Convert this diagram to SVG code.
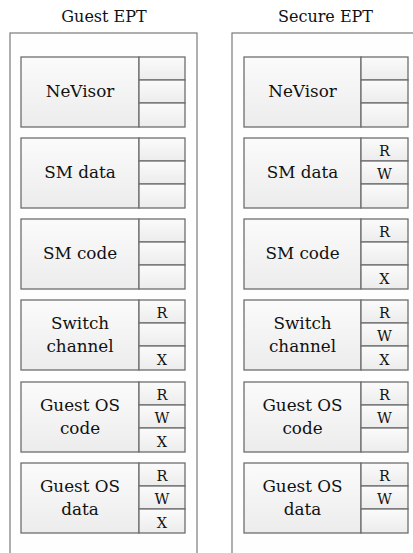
<svg xmlns="http://www.w3.org/2000/svg" width="413" height="553" viewBox="0 0 413 553">
<defs>
<linearGradient id="g" x1="0" y1="0" x2="0" y2="1">
<stop offset="0" stop-color="#fbfbfb"/>
<stop offset="1" stop-color="#ececec"/>
</linearGradient>
<style>
.ct{fill:#fefefe;stroke:#7a7a7a;stroke-width:1.2}
.bx{fill:url(#g);stroke:#6e6e6e;stroke-width:1.3}
text{font-family:"DejaVu Serif",serif;fill:#111;text-anchor:middle}
.ti{font-size:16px}
.lb{font-size:16.8px}
.c{font-size:14.5px}
</style>
</defs>
<rect width="413" height="553" fill="#ffffff"/>
<rect class="ct" x="10" y="33" width="187" height="530"/>
<rect class="ct" x="232" y="33" width="187" height="530"/>
<text class="ti" x="104" y="22">Guest EPT</text>
<text class="ti" x="325.5" y="22">Secure EPT</text>

<g id="g-nevisor">
<rect class="bx" x="21" y="57" width="118" height="70"/>
<rect class="bx" x="139" y="57" width="46" height="23"/><rect class="bx" x="139" y="80" width="46" height="23"/><rect class="bx" x="139" y="103" width="46" height="24"/>
<text class="lb" x="80" y="97">NeVisor</text>
</g>
<g id="g-smdata">
<rect class="bx" x="21" y="138" width="118" height="70"/>
<rect class="bx" x="139" y="138" width="46" height="23"/><rect class="bx" x="139" y="161" width="46" height="23"/><rect class="bx" x="139" y="184" width="46" height="24"/>
<text class="lb" x="80" y="178">SM data</text>
</g>
<g id="g-smcode">
<rect class="bx" x="21" y="219" width="118" height="70"/>
<rect class="bx" x="139" y="219" width="46" height="23"/><rect class="bx" x="139" y="242" width="46" height="23"/><rect class="bx" x="139" y="265" width="46" height="24"/>
<text class="lb" x="80" y="259">SM code</text>
</g>
<g id="g-switch">
<rect class="bx" x="21" y="300" width="118" height="70"/>
<rect class="bx" x="139" y="300" width="46" height="23"/><rect class="bx" x="139" y="323" width="46" height="23"/><rect class="bx" x="139" y="346" width="46" height="24"/>
<text class="lb" x="80" y="329">Switch</text><text class="lb" x="80" y="352">channel</text>
<text class="c" x="162" y="318">R</text><text class="c" x="162" y="365">X</text>
</g>
<g id="g-oscode">
<rect class="bx" x="21" y="382" width="118" height="70"/>
<rect class="bx" x="139" y="382" width="46" height="23"/><rect class="bx" x="139" y="405" width="46" height="23"/><rect class="bx" x="139" y="428" width="46" height="24"/>
<text class="lb" x="80" y="411">Guest OS</text><text class="lb" x="80" y="434">code</text>
<text class="c" x="162" y="400">R</text><text class="c" x="162" y="423">W</text><text class="c" x="162" y="447">X</text>
</g>
<g id="g-osdata">
<rect class="bx" x="21" y="463" width="118" height="70"/>
<rect class="bx" x="139" y="463" width="46" height="23"/><rect class="bx" x="139" y="486" width="46" height="23"/><rect class="bx" x="139" y="509" width="46" height="24"/>
<text class="lb" x="80" y="492">Guest OS</text><text class="lb" x="80" y="515">data</text>
<text class="c" x="162" y="481">R</text><text class="c" x="162" y="504">W</text><text class="c" x="162" y="528">X</text>
</g>

<g id="s-nevisor">
<rect class="bx" x="244" y="57" width="117" height="70"/>
<rect class="bx" x="361" y="57" width="47" height="23"/><rect class="bx" x="361" y="80" width="47" height="23"/><rect class="bx" x="361" y="103" width="47" height="24"/>
<text class="lb" x="302.5" y="97">NeVisor</text>
</g>
<g id="s-smdata">
<rect class="bx" x="244" y="138" width="117" height="70"/>
<rect class="bx" x="361" y="138" width="47" height="23"/><rect class="bx" x="361" y="161" width="47" height="23"/><rect class="bx" x="361" y="184" width="47" height="24"/>
<text class="lb" x="302.5" y="178">SM data</text>
<text class="c" x="384.5" y="156">R</text><text class="c" x="384.5" y="179">W</text>
</g>
<g id="s-smcode">
<rect class="bx" x="244" y="219" width="117" height="70"/>
<rect class="bx" x="361" y="219" width="47" height="23"/><rect class="bx" x="361" y="242" width="47" height="23"/><rect class="bx" x="361" y="265" width="47" height="24"/>
<text class="lb" x="302.5" y="259">SM code</text>
<text class="c" x="384.5" y="237">R</text><text class="c" x="384.5" y="284">X</text>
</g>
<g id="s-switch">
<rect class="bx" x="244" y="300" width="117" height="70"/>
<rect class="bx" x="361" y="300" width="47" height="23"/><rect class="bx" x="361" y="323" width="47" height="23"/><rect class="bx" x="361" y="346" width="47" height="24"/>
<text class="lb" x="302.5" y="329">Switch</text><text class="lb" x="302.5" y="352">channel</text>
<text class="c" x="384.5" y="318">R</text><text class="c" x="384.5" y="341">W</text><text class="c" x="384.5" y="365">X</text>
</g>
<g id="s-oscode">
<rect class="bx" x="244" y="382" width="117" height="70"/>
<rect class="bx" x="361" y="382" width="47" height="23"/><rect class="bx" x="361" y="405" width="47" height="23"/><rect class="bx" x="361" y="428" width="47" height="24"/>
<text class="lb" x="302.5" y="411">Guest OS</text><text class="lb" x="302.5" y="434">code</text>
<text class="c" x="384.5" y="400">R</text><text class="c" x="384.5" y="423">W</text>
</g>
<g id="s-osdata">
<rect class="bx" x="244" y="463" width="117" height="70"/>
<rect class="bx" x="361" y="463" width="47" height="23"/><rect class="bx" x="361" y="486" width="47" height="23"/><rect class="bx" x="361" y="509" width="47" height="24"/>
<text class="lb" x="302.5" y="492">Guest OS</text><text class="lb" x="302.5" y="515">data</text>
<text class="c" x="384.5" y="481">R</text><text class="c" x="384.5" y="504">W</text>
</g>
<g id="connectors"/>
</svg>
